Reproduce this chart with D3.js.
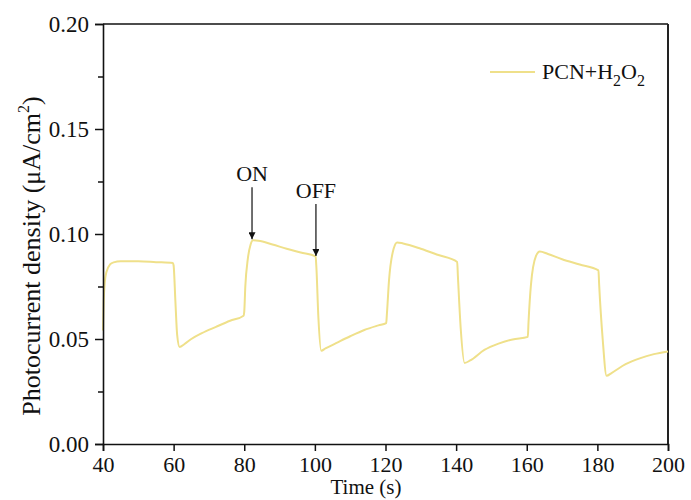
<!DOCTYPE html>
<html>
<head>
<meta charset="utf-8">
<script src="https://cdn.jsdelivr.net/npm/d3@7/dist/d3.min.js"></script>
<style>
  html, body { margin: 0; padding: 0; background: #fff; }
  svg { display: block; }
  text { font-family: "Liberation Serif", "Times New Roman", serif; fill: #111; }
</style>
</head>
<body>
<svg id="chart" width="691" height="500"></svg>
<script>
// Photocurrent response of PCN + H2O2 under chopped light
const timeS = [40, 40.2, 40.5, 41, 42, 43, 45, 50, 55, 59.8,
  60, 60.5, 61, 61.7, 63, 65, 68, 72, 76, 79.8,
  80, 80.3, 81, 81.8, 82.5, 84, 88, 92, 96, 100.2,
  100.4, 101, 101.8, 103, 106, 110, 114, 118, 120.2,
  120.4, 121, 122.3, 123.3, 125, 130, 135, 140.3,
  140.5, 141.3, 142.4, 144, 148, 152, 156, 160.3,
  160.5, 161.2, 162.6, 163.7, 166, 170, 175, 180.3,
  180.5, 181.5, 182.6, 184, 188, 192, 196, 200];
const current = [0.054, 0.068, 0.077, 0.082, 0.0855, 0.0865, 0.0870, 0.0870, 0.0866, 0.0862,
  0.0850, 0.068, 0.052, 0.0462, 0.0475, 0.0500, 0.0528, 0.0558, 0.0587, 0.0611,
  0.0630, 0.075, 0.088, 0.0950, 0.0970, 0.0968, 0.0950, 0.0930, 0.0912, 0.0893,
  0.085, 0.060, 0.0444, 0.0455, 0.0480, 0.0513, 0.0543, 0.0565, 0.0576,
  0.062, 0.078, 0.093, 0.0960, 0.0955, 0.0930, 0.0900, 0.0867,
  0.080, 0.055, 0.0386, 0.0398, 0.0448, 0.0478, 0.0498, 0.0510,
  0.058, 0.076, 0.0895, 0.0917, 0.0905, 0.0880, 0.0855, 0.0827,
  0.076, 0.050, 0.0325, 0.0338, 0.0380, 0.0408, 0.0428, 0.0441];

const xTicks = [40, 60, 80, 100, 120, 140, 160, 180, 200];
const yTicks = [0.00, 0.05, 0.10, 0.15, 0.20];
const yMinorTicks = [0.025, 0.075, 0.125, 0.175];

const annotLabels = ["ON", "OFF"];
const annotTime = [82.2, 100.3];
const annotValue = [0.0975, 0.0895];

const lineColor = "#efe08a";

const svg = d3.select("#chart");
const m = { left: 103, right: 668, top: 24, bottom: 444 };

const x = d3.scaleLinear().domain([40, 200]).range([m.left, m.right]);
const y = d3.scaleLinear().domain([0, 0.20]).range([m.bottom, m.top]);

// frame: top and right edges
svg.append("line").attr("x1", m.left).attr("x2", m.right).attr("y1", m.top).attr("y2", m.top)
  .attr("stroke", "#111").attr("stroke-width", 1.6);
svg.append("line").attr("x1", m.right).attr("x2", m.right).attr("y1", m.top).attr("y2", m.bottom)
  .attr("stroke", "#222").attr("stroke-width", 2);

// data curve
const pts = timeS.map((t, i) => [t, current[i]]);
const line = d3.line().x(d => x(d[0])).y(d => y(d[1])).curve(d3.curveMonotoneX);
svg.append("path").datum(pts).attr("d", line)
  .attr("fill", "none").attr("stroke", lineColor).attr("stroke-width", 2)
  .attr("stroke-linejoin", "round");

// x axis
const xAxis = d3.axisBottom(x).tickValues(xTicks).tickFormat(d3.format("d"))
  .tickSize(7).tickPadding(5);
const gx = svg.append("g").attr("transform", `translate(0,${m.bottom})`).call(xAxis);
gx.select(".domain").attr("stroke", "#111").attr("stroke-width", 1.6);
gx.selectAll(".tick line").attr("stroke", "#111").attr("stroke-width", 1.5);
gx.selectAll(".tick text").attr("font-size", 22).attr("font-family", "Liberation Serif").attr("fill", "#111");

// y axis
const yAxis = d3.axisLeft(y).tickValues(yTicks).tickFormat(d3.format(".2f"))
  .tickSize(8).tickPadding(6);
const gy = svg.append("g").attr("transform", `translate(${m.left},0)`).call(yAxis);
gy.select(".domain").attr("stroke", "#111").attr("stroke-width", 1.6);
gy.selectAll(".tick line").attr("stroke", "#111").attr("stroke-width", 1.5);
gy.selectAll(".tick text").attr("font-size", 23).attr("font-family", "Liberation Serif").attr("fill", "#111");

const yMinor = d3.axisLeft(y).tickValues(yMinorTicks).tickFormat("").tickSize(5);
const gym = svg.append("g").attr("transform", `translate(${m.left},0)`).call(yMinor);
gym.select(".domain").remove();
gym.selectAll(".tick line").attr("stroke", "#111").attr("stroke-width", 1.5);

// axis titles
svg.append("text").attr("x", 366).attr("y", 494).attr("text-anchor", "middle")
  .attr("font-size", 21).text("Time (s)");

const yt = svg.append("text").attr("transform", "translate(40,256) rotate(-90)")
  .attr("text-anchor", "middle").attr("font-size", 26);
yt.append("tspan").text("Photocurrent density (\u03bcA/cm");
yt.append("tspan").attr("font-size", 16).attr("dy", -11).text("2");
yt.append("tspan").attr("dy", 11).text(")");

// ON / OFF arrows
const defs = svg.append("defs");
defs.append("marker").attr("id", "arrowHead").attr("viewBox", "0 0 10 10")
  .attr("refX", 10).attr("refY", 5).attr("markerWidth", 7).attr("markerHeight", 7)
  .attr("markerUnits", "userSpaceOnUse").attr("orient", "auto")
  .append("path").attr("d", "M0,0 L10,5 L0,10 Z").attr("fill", "#111");

annotLabels.forEach((lab, i) => {
  const ax = x(annotTime[i]);
  const ay = y(annotValue[i]);
  svg.append("line").attr("x1", ax).attr("x2", ax).attr("y1", ay - 52).attr("y2", ay)
    .attr("stroke", "#222").attr("stroke-width", 1.3).attr("marker-end", "url(#arrowHead)");
  svg.append("text").attr("x", ax).attr("y", ay - 58).attr("text-anchor", "middle")
    .attr("font-size", 22).text(lab);
});

// legend
svg.append("line").attr("x1", 490).attr("x2", 535).attr("y1", 72).attr("y2", 72)
  .attr("stroke", lineColor).attr("stroke-width", 2);
const lg = svg.append("text").attr("x", 542).attr("y", 79).attr("font-size", 22);
lg.append("tspan").text("PCN+H");
lg.append("tspan").attr("font-size", 16).attr("dy", 7).text("2");
lg.append("tspan").attr("dy", -7).text("O");
lg.append("tspan").attr("font-size", 16).attr("dy", 7).text("2");
</script>
</body>
</html>
